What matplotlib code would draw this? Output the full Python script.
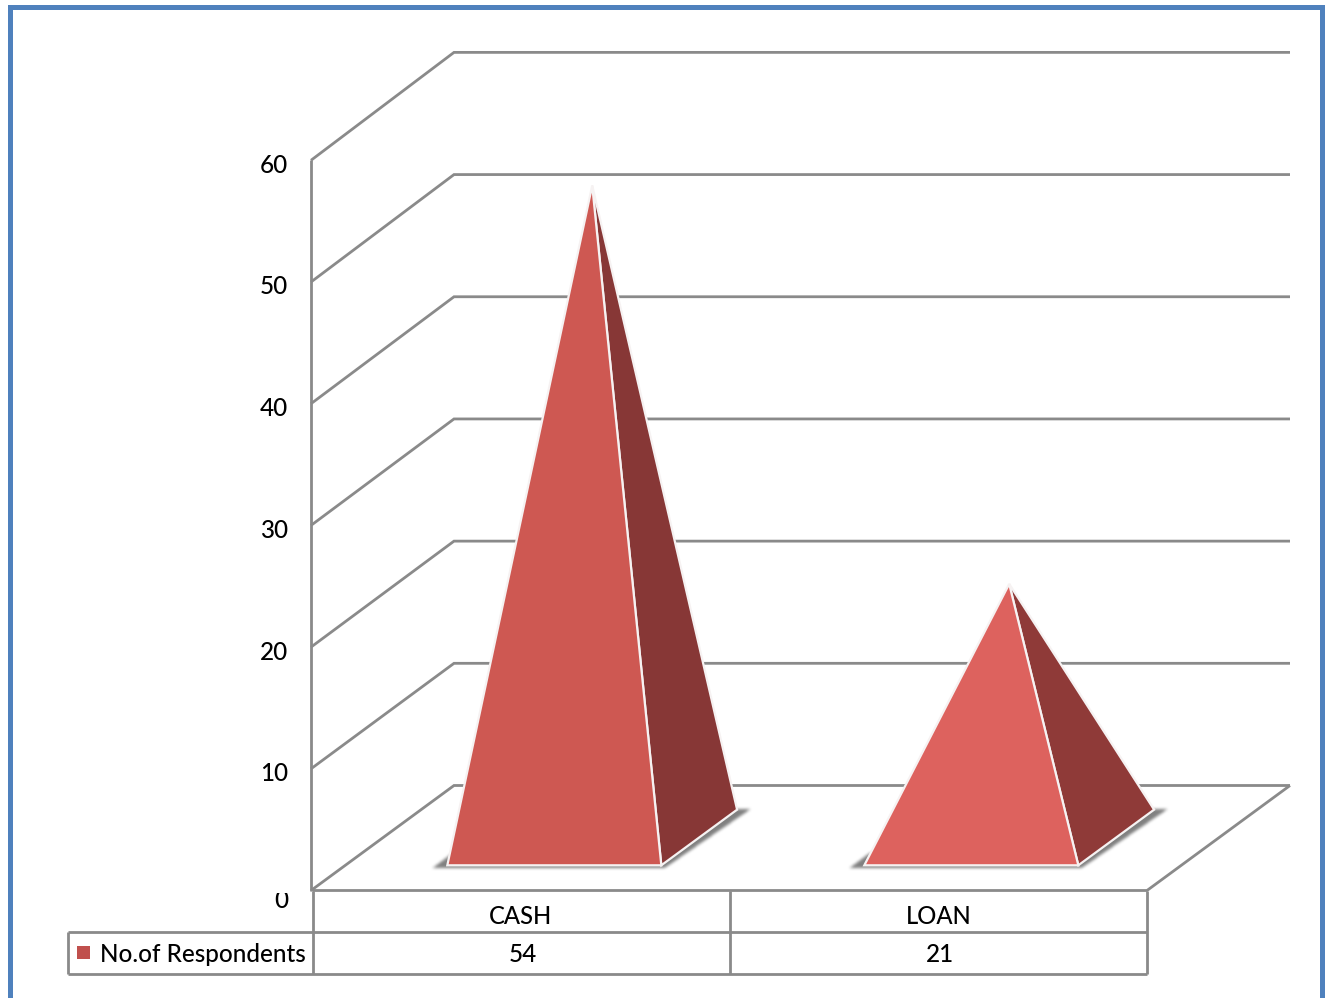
import numpy as np
import matplotlib
matplotlib.use('Agg')
import matplotlib.pyplot as plt
from matplotlib.patches import Polygon, Rectangle
from matplotlib.path import Path

plt.rcParams['font.family'] = ['Lato', 'DejaVu Sans']

# --- data ---
categories = ['CASH', 'LOAN']
values = [54, 21]
series_name = 'No.of Respondents'
y_ticks = [0, 10, 20, 30, 40, 50, 60]

# --- colours ---
front_colors = ['#CE5852', '#DD625E']
side_colors = ['#873736', '#8F3A38']
legend_color = '#C0504D'
line_color = '#8A8A8A'
frame_color = '#4F81BD'

# --- 3d box layout, in figure pixels ---
X0, Y0 = 311, 890.5        # front corner of the floor, value 0
UNIT = 12.17               # pixels per value unit at the front
BACK_GROW = 0.004          # the back wall is a touch taller than the front
DX, DY = 143, -105         # depth vector of the box
CAT_W = 417                # width of one category
TABLE_X = 313
BAR_W = 214                # pyramid base width
BAR_GAP = 100              # gap before the pyramid base
BASE_D0, BASE_D1 = 0.24, 0.77
APEX_SCALE = 0.99
FONT_SIZE = 17.5


def project(x, depth=0.0, value=0.0):
    return (x + DX * depth, Y0 + DY * depth - UNIT * (1 + BACK_GROW * depth) * value)


def draw_line(ax, pts, lw=2.0, z=1):
    ax.plot([p[0] for p in pts], [p[1] for p in pts], color=line_color, lw=lw,
            solid_capstyle='butt', solid_joinstyle='miter', zorder=z)


def box_blur(a, size, passes=3):
    kernel = np.ones(size) / size
    for _ in range(passes):
        a = np.apply_along_axis(lambda r: np.convolve(r, kernel, mode='same'), 0, a)
        a = np.apply_along_axis(lambda r: np.convolve(r, kernel, mode='same'), 1, a)
    return a


def draw_shadow(ax, poly, strength=0.8):
    # rasterise the outline, blur it and lay it on the floor as a grey image
    xs = [p[0] for p in poly]
    ys = [p[1] for p in poly]
    x0, x1 = int(min(xs)) - 14, int(max(xs)) + 14
    y0, y1 = int(min(ys)) - 14, int(max(ys)) + 14
    gx, gy = np.meshgrid(np.arange(x0, x1) + 0.5, np.arange(y0, y1) + 0.5)
    pts = np.column_stack([gx.ravel(), gy.ravel()])
    mask = Path(poly).contains_points(pts).reshape(gx.shape).astype(float)
    alpha = box_blur(mask, 3) * strength
    rgba = np.zeros(gx.shape + (4,))
    rgba[..., :3] = 0.38
    rgba[..., 3] = alpha
    ax.imshow(rgba, extent=(x0, x1, y1, y0), interpolation='bilinear', zorder=2, aspect='auto')


fig = plt.figure(figsize=(13.31, 9.98), dpi=100)
ax = fig.add_axes([0, 0, 1, 1])
ax.axis('off')

# outer frame, open at the bottom
ax.plot([9.5, 9.5, 1321.5, 1321.5], [998, 6.5, 6.5, 998], color=frame_color, lw=3.6,
        solid_joinstyle='miter', zorder=0)

# walls: gridlines run along the side wall then the back wall
x_right = X0 + 2 * CAT_W + 2
for v in y_ticks:
    draw_line(ax, [project(X0, 0, v), project(X0, 1, v), project(x_right, 1, v)])
draw_line(ax, [project(X0, 0, 0), project(X0, 0, y_ticks[-1])])

# floor edges
draw_line(ax, [project(x_right, 1, 0), project(x_right, 0, 0), project(TABLE_X, 0, 0)])

# tick labels; the zero sits under the floor line and loses its top
for v in y_ticks:
    y = project(X0, 0, v)[1]
    if v == 0:
        t = ax.text(288, y + 10.5, str(v), ha='right', va='center', fontsize=FONT_SIZE,
                    fontweight='medium', color='black', clip_on=True)
        t.set_clip_path(Rectangle((200, y + 2), 120, 30, transform=ax.transData))
    else:
        ax.text(288, y + 5, str(v), ha='right', va='center', fontsize=FONT_SIZE,
                fontweight='medium', color='black')

# pyramids
for i, v in enumerate(values):
    left = TABLE_X + i * CAT_W + BAR_GAP
    fl = project(left, BASE_D0)
    fr = project(left + BAR_W, BASE_D0)
    br = project(left + BAR_W, BASE_D1)
    apex = project(left + BAR_W / 2, (BASE_D0 + BASE_D1) / 2, v * APEX_SCALE)

    draw_shadow(ax, [(fl[0] - 15, fl[1] + 3), (fr[0] + 3, fr[1] + 3),
                     (br[0] + 14, br[1] - 1), (br[0] - 10, br[1] - 1), (fl[0] + 5, fl[1] - 12)])

    ax.add_patch(Polygon([fr, br, apex], closed=True, facecolor=side_colors[i],
                         edgecolor='#F6F2F2', lw=1.6, joinstyle='miter', zorder=3))
    ax.add_patch(Polygon([fl, fr, apex], closed=True, facecolor=front_colors[i],
                         edgecolor='#F6F2F2', lw=1.6, joinstyle='miter', zorder=4))

# data table under the chart
row0, row1, row2 = 890.5, 932, 974
table_right = TABLE_X + 2 * CAT_W
key_left = 68
draw_line(ax, [(key_left, row1), (table_right, row1)])
draw_line(ax, [(key_left, row2), (table_right, row2)])
draw_line(ax, [(key_left, row1), (key_left, row2)])
for i in range(len(categories) + 1):
    x = TABLE_X + i * CAT_W
    draw_line(ax, [(x, row0), (x, row2)])

for i, (name, v) in enumerate(zip(categories, values)):
    cx = TABLE_X + (i + 0.5) * CAT_W
    ax.text(cx + 2 * i - 1.5, row0 + 26, name, ha='center', va='center', fontsize=FONT_SIZE - 0.4,
            fontweight='medium', color='black')
    ax.text(cx + 1, row1 + 23, str(v), ha='center', va='center', fontsize=FONT_SIZE,
            fontweight='medium', color='black')

ax.add_patch(Rectangle((77, 946), 13, 13, facecolor=legend_color, edgecolor='none', zorder=3))
ax.text(100, row1 + 22.5, series_name, ha='left', va='center', fontsize=FONT_SIZE,
        fontweight='medium', color='black')

# imshow resets the limits, so pin the pixel window last
ax.set_xlim(0, 1331)
ax.set_ylim(998, 0)

fig.savefig('out.png', dpi=100, facecolor='white')
